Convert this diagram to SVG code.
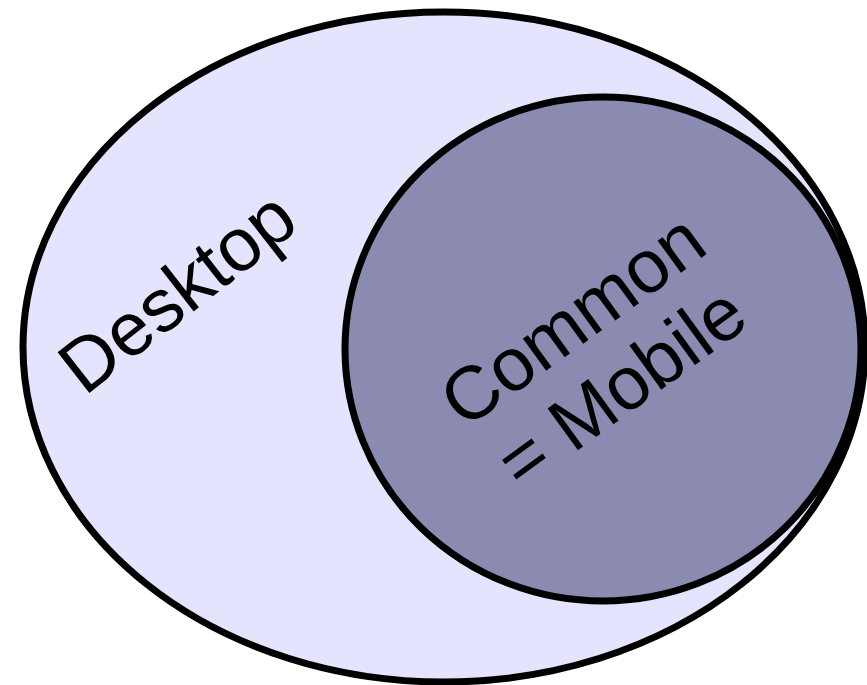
<svg xmlns="http://www.w3.org/2000/svg" width="867" height="685" viewBox="0 0 867 685">
<style>
.lbl{font-family:"Liberation Sans",Arial,sans-serif;font-size:75px;fill:#000;text-anchor:middle}
.e{stroke:#000;stroke-width:7}
</style>
<rect width="867" height="685" fill="#fff"/>
<g id="desktop">
<ellipse class="e" cx="444" cy="347" rx="421" ry="335" fill="#E4E4FE"/>
<text class="lbl" transform="translate(193,312) rotate(-38)">Desktop</text>
</g>
<g id="common">
<ellipse class="e" cx="603" cy="349" rx="258" ry="252" fill="#8B8BB1"/>
<text class="lbl" transform="translate(611,373) rotate(-36)"><tspan x="0" y="-40">Common</tspan><tspan x="0" y="43">= Mobile</tspan></text>
</g>
<g id="connectors"/>
</svg>
